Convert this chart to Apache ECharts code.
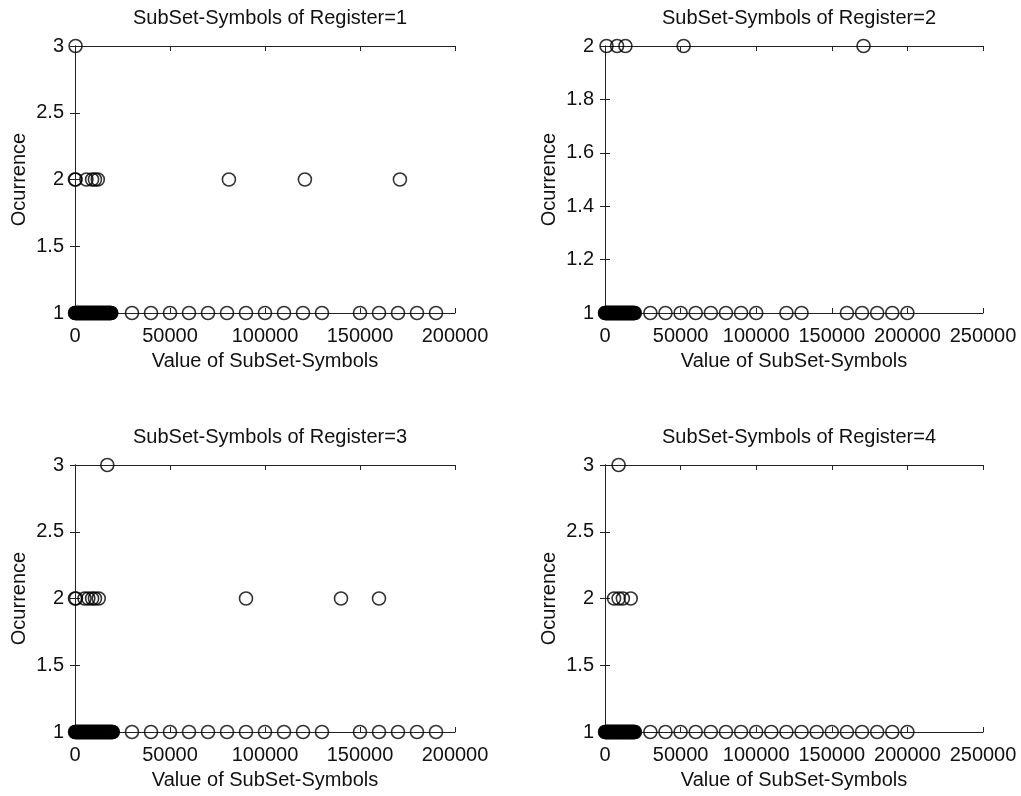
<!DOCTYPE html>
<html>
<head>
<meta charset="utf-8">
<script src="https://cdn.jsdelivr.net/npm/echarts@6/dist/echarts.min.js"></script>
<style>
html,body{margin:0;padding:0;background:#fff;}
#chart{width:1021px;height:796px;}
</style>
</head>
<body>
<div id="chart"></div>
<script>
// ---- Data ----
var titles = ['SubSet-Symbols of Register=1', 'SubSet-Symbols of Register=2',
              'SubSet-Symbols of Register=3', 'SubSet-Symbols of Register=4'];
var xAxisName = 'Value of SubSet-Symbols';
var yAxisName = 'Ocurrence';

// Register=1
var r1_occ1 = [0, 200, 450, 700, 900, 1150, 1400, 1600, 1850, 2100, 2300, 2550, 2800, 3000, 3250, 3500,
  3700, 3950, 4200, 4400, 4650, 4900, 5100, 5350, 5600, 5800, 6050, 6300, 6500, 6750, 7000, 7200, 7450,
  7700, 7900, 8150, 8400, 8600, 8850, 9100, 9300, 9550, 9800, 10000, 10250, 10500, 10700, 10950, 11200,
  11400, 11650, 11900, 12100, 12350, 12600, 12800, 13050, 13300, 13500, 13750, 14000, 14200, 14450,
  14700, 14900, 15150, 15400, 15600, 15850, 16100, 16300, 16550, 16800, 17000, 17250, 17500, 17700,
  17950, 18200, 18400, 18650, 18900, 19100,
  30000, 40000, 50000, 60000, 70000, 80000, 90000, 100000, 110000, 120000, 130000,
  150000, 160000, 170000, 180000, 190000];
var r1_occ2 = [0, 300, 6000, 9000, 10500, 12000, 81000, 121000, 171000];
var r1_occ3 = [300];

// Register=2
var r2_occ1 = [0, 250, 500, 800, 1050, 1300, 1600, 1850, 2100, 2400, 2650, 2900, 3200, 3450, 3700, 4000,
  4250, 4500, 4800, 5050, 5300, 5600, 5850, 6100, 6400, 6650, 6900, 7200, 7450, 7700, 8000, 8250, 8500,
  8800, 9050, 9300, 9600, 9850, 10100, 10400, 10650, 10900, 11200, 11450, 11700, 12000, 12250, 12500,
  12800, 13050, 13300, 13600, 13850, 14100, 14400, 14650, 14900, 15200, 15450, 15700, 16000, 16250,
  16500, 16800, 17050, 17300, 17600, 17850, 18100, 18400, 18650, 18900, 19200, 19450, 19700,
  30000, 40000, 50000, 60000, 70000, 80000, 90000, 100000, 120000, 130000,
  160000, 170000, 180000, 190000, 200000];
var r2_occ2 = [1000, 8000, 13500, 52000, 171000];

// Register=3
var r3_occ1 = [0, 250, 500, 700, 950, 1200, 1450, 1700, 1900, 2150, 2400, 2650, 2900, 3100, 3350, 3600,
  3850, 4100, 4300, 4550, 4800, 5050, 5300, 5500, 5750, 6000, 6250, 6500, 6700, 6950, 7200, 7450, 7700,
  7900, 8150, 8400, 8650, 8900, 9100, 9350, 9600, 9850, 10100, 10300, 10550, 10800, 11050, 11300, 11500,
  11750, 12000, 12250, 12500, 12700, 12950, 13200, 13450, 13700, 13900, 14150, 14400, 14650, 14900,
  15100, 15350, 15600, 15850, 16100, 16300, 16550, 16800, 17050, 17300, 17500, 17750, 18000, 18250,
  18500, 18700, 18950, 19200, 19450, 19700, 19900,
  30000, 40000, 50000, 60000, 70000, 80000, 90000, 100000, 110000, 120000, 130000,
  150000, 160000, 170000, 180000, 190000];
var r3_occ2 = [0, 500, 5000, 7000, 9000, 10500, 12500, 90000, 140000, 160000];
var r3_occ3 = [17000];

// Register=4
var r4_occ1 = [0, 300, 550, 800, 1100, 1350, 1600, 1900, 2150, 2400, 2700, 2950, 3200, 3500, 3750, 4000,
  4300, 4550, 4800, 5100, 5350, 5600, 5900, 6150, 6400, 6700, 6950, 7200, 7500, 7750, 8000, 8300, 8550,
  8800, 9100, 9350, 9600, 9900, 10150, 10400, 10700, 10950, 11200, 11500, 11750, 12000, 12300, 12550,
  12800, 13100, 13350, 13600, 13900, 14150, 14400, 14700, 14950, 15200, 15500, 15750, 16000, 16300,
  16550, 16800, 17100, 17350, 17600, 17900, 18150, 18400, 18700, 18950, 19200, 19500, 19750,
  30000, 40000, 50000, 60000, 70000, 80000, 90000, 100000, 110000, 120000, 130000,
  140000, 150000, 160000, 170000, 180000, 190000, 200000];
var r4_occ2 = [6000, 9000, 11800, 17000];
var r4_occ3 = [9000];

var xMax = [200000, 250000, 200000, 250000];
var xInterval = 50000;
var yRange = [[1, 3, 0.5], [1, 2, 0.2], [1, 3, 0.5], [1, 3, 0.5]];

var panels = [
  [[r1_occ1, 1], [r1_occ2, 2], [r1_occ3, 3]],
  [[r2_occ1, 1], [r2_occ2, 2]],
  [[r3_occ1, 1], [r3_occ2, 2], [r3_occ3, 3]],
  [[r4_occ1, 1], [r4_occ2, 2], [r4_occ3, 3]]
];

// ---- Layout ----
var gridBoxes = [
  {left: 75, top: 46, width: 380, height: 267},
  {left: 605, top: 46, width: 378, height: 267},
  {left: 75, top: 465, width: 380, height: 267},
  {left: 605, top: 465, width: 378, height: 267}
];
var FONT = 'Liberation Sans, Arial, sans-serif';
var TXT = '#111';
var LINE = '#222';

function plain(v) { return String(Math.round(v * 100) / 100); }

var option = {
  animation: false,
  backgroundColor: '#fff',
  title: [], grid: [], xAxis: [], yAxis: [], series: []
};

gridBoxes.forEach(function (g, i) {
  option.grid.push({left: g.left, top: g.top, width: g.width, height: g.height, containLabel: false});
  option.title.push({
    text: titles[i], left: g.left + g.width / 2, top: g.top - 43, textAlign: 'center',
    textStyle: {fontFamily: FONT, fontSize: 20, fontWeight: 'normal', color: TXT}
  });
  var axLine = {show: true, lineStyle: {color: LINE, width: 1}};
  var tick = {show: true, inside: true, length: 5, lineStyle: {color: LINE}};
  option.xAxis.push({
    gridIndex: i, type: 'value', position: 'bottom', min: 0, max: xMax[i], interval: xInterval,
    name: xAxisName, nameLocation: 'middle', nameGap: 38,
    nameTextStyle: {fontFamily: FONT, fontSize: 20, color: TXT},
    axisLine: axLine, axisTick: tick, splitLine: {show: false},
    axisLabel: {fontFamily: FONT, fontSize: 20, color: TXT, margin: 13, formatter: plain}
  });
  option.xAxis.push({
    gridIndex: i, type: 'value', position: 'top', min: 0, max: xMax[i], interval: xInterval,
    axisLine: axLine, axisTick: tick, splitLine: {show: false}, axisLabel: {show: false}
  });
  var yr = yRange[i];
  option.yAxis.push({
    gridIndex: i, type: 'value', position: 'left', min: yr[0], max: yr[1], interval: yr[2],
    name: yAxisName, nameLocation: 'middle', nameGap: 46, nameRotate: 90,
    nameTextStyle: {fontFamily: FONT, fontSize: 20, color: TXT},
    axisLine: axLine, axisTick: tick, splitLine: {show: false},
    axisLabel: {fontFamily: FONT, fontSize: 20, color: TXT, margin: 11, formatter: plain}
  });
  option.yAxis.push({
    gridIndex: i, type: 'value', position: 'right', min: yr[0], max: yr[1], interval: yr[2],
    axisLine: axLine, axisTick: tick, splitLine: {show: false}, axisLabel: {show: false}
  });
  panels[i].forEach(function (row) {
    option.series.push({
      type: 'scatter', xAxisIndex: 2 * i, yAxisIndex: 2 * i, clip: false,
      symbol: 'circle', symbolSize: 13,
      itemStyle: {color: 'rgba(0,0,0,0)', borderColor: '#000', borderWidth: 1.6},
      data: row[0].map(function (x) { return [x, row[1]]; })
    });
  });
});

var chart = echarts.init(document.getElementById('chart'), null, {renderer: 'canvas'});
chart.setOption(option);
</script>
</body>
</html>
